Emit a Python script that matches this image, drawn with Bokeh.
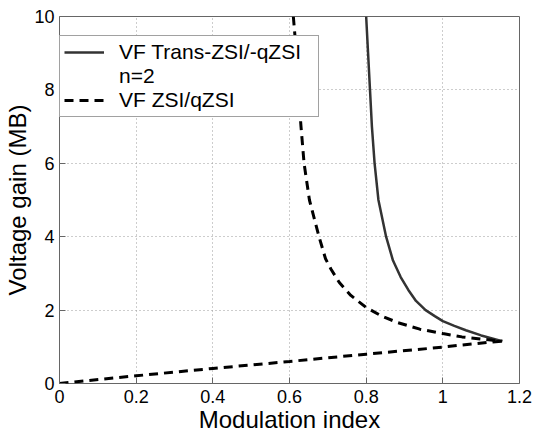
from bokeh.plotting import figure
from bokeh.models import Legend, LegendItem, Range1d, FixedTicker
from bokeh.embed import file_html
from bokeh.resources import INLINE

# ---- data ----
m_trans = [0.800, 0.805, 0.810, 0.815, 0.822, 0.832, 0.852, 0.870, 0.890, 0.910, 0.930, 0.955, 0.980, 1.000, 1.030, 1.060, 1.100, 1.155]
g_trans = [10.0, 9.0, 8.0, 7.0, 6.0, 5.0, 4.0, 3.35, 2.9, 2.55, 2.25, 2.0, 1.83, 1.70, 1.57, 1.45, 1.31, 1.155]

m_zsi = [0.610, 0.618, 0.623, 0.630, 0.638, 0.652, 0.677, 0.694, 0.708, 0.730, 0.760, 0.800, 0.840, 0.882, 0.940, 1.000, 1.050, 1.100, 1.155]
g_zsi = [10.0, 9.0, 8.0, 7.0, 6.0, 5.0, 4.0, 3.4, 3.12, 2.75, 2.4, 2.07, 1.84, 1.66, 1.48, 1.36, 1.27, 1.21, 1.155]

m_zsi_low = [0.0, 0.2, 0.4, 0.6, 0.8, 1.0, 1.05, 1.155]
g_zsi_low = [0.0, 0.21, 0.41, 0.6, 0.8, 0.99, 1.05, 1.155]

x_ticks = [0, 0.2, 0.4, 0.6, 0.8, 1.0, 1.2]
x_tick_labels = ["0", "0.2", "0.4", "0.6", "0.8", "1", "1.2"]
y_ticks = [0, 2, 4, 6, 8, 10]
y_tick_labels = ["0", "2", "4", "6", "8", "10"]

label_trans = "VF Trans-ZSI/-qZSI"
label_n = "n=2"
label_zsi = "VF ZSI/qZSI"
x_title = "Modulation index"
y_title = "Voltage gain (MB)"

FONT = "Liberation Sans"

p = figure(width=536, height=438, output_backend="svg", toolbar_location=None,
           x_range=Range1d(0, 1.2), y_range=Range1d(0, 10),
           min_border_left=59, min_border_top=16, min_border_right=17, min_border_bottom=55)

p.background_fill_color = "white"
p.border_fill_color = "white"
p.outline_line_color = "#666666"
p.outline_line_width = 1

for ax in (p.xaxis[0], p.yaxis[0]):
    ax.axis_line_color = None
    ax.major_tick_in = 6
    ax.major_tick_out = 0
    ax.major_tick_line_color = "#666666"
    ax.minor_tick_line_color = None
    ax.major_label_text_font = FONT
    ax.major_label_text_font_size = "18px"
    ax.major_label_text_color = "black"
    ax.axis_label_text_font = FONT
    ax.axis_label_text_font_style = "normal"
    ax.axis_label_text_color = "black"

p.xaxis.axis_label_text_font_size = "24px"
p.yaxis.axis_label_text_font_size = "24px"
p.xaxis.ticker = FixedTicker(ticks=x_ticks)
p.yaxis.ticker = FixedTicker(ticks=y_ticks)
p.xaxis.major_label_overrides = {t: l for t, l in zip(x_ticks, x_tick_labels)}
p.yaxis.major_label_overrides = {t: l for t, l in zip(y_ticks, y_tick_labels)}
p.xaxis.axis_label = x_title
p.yaxis.axis_label = y_title
p.xaxis.major_label_standoff = 6
p.yaxis.major_label_standoff = 5
p.xaxis.axis_label_standoff = 0
p.yaxis.axis_label_standoff = 0

p.grid.grid_line_color = "#9a9a9a"
p.grid.grid_line_dash = "1 3"
p.grid.grid_line_width = 1

r_trans = p.line(m_trans, g_trans, line_color="#333333", line_width=2.5)
r_zsi = p.line(m_zsi, g_zsi, line_color="black", line_width=3, line_dash="9 6")
p.line(m_zsi_low, g_zsi_low, line_color="black", line_width=3, line_dash="9 6")
r_blank = p.line(m_trans, g_trans, line_alpha=0)

legend = Legend(items=[
    LegendItem(label=label_trans, renderers=[r_trans]),
    LegendItem(label=label_n, renderers=[r_blank]),
    LegendItem(label=label_zsi, renderers=[r_zsi]),
], location=(0, 266))
legend.label_text_font = FONT
legend.label_text_font_size = "21px"
legend.label_text_color = "black"
legend.glyph_width = 40
legend.glyph_height = 18
legend.label_height = 18
legend.label_width = 195
legend.label_standoff = 15
legend.spacing = 0
legend.padding = 4
legend.margin = 0
legend.border_line_color = "#444444"
legend.border_line_width = 1
legend.background_fill_color = "white"
legend.background_fill_alpha = 1.0
p.add_layout(legend)

open("out.html", "w").write(file_html(p, INLINE))
